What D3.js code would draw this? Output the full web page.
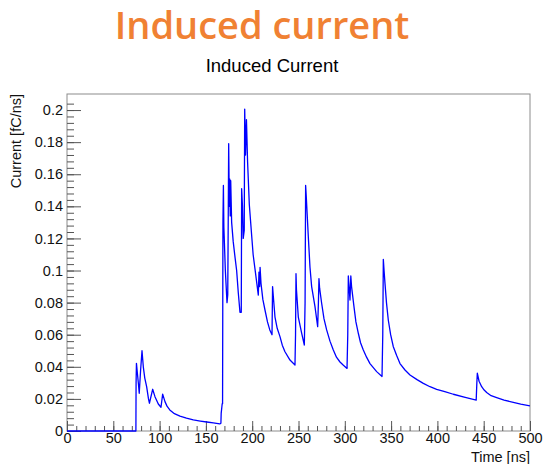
<!DOCTYPE html>
<html>
<head>
<meta charset="utf-8">
<script src="https://cdn.jsdelivr.net/npm/d3@7"></script>
<style>
  html, body { margin: 0; padding: 0; background: #fff; }
  svg { display: block; }
  .tick text { font-family: 'Liberation Sans', Arial, sans-serif; }
</style>
</head>
<body>
<div id="chart"></div>
<script>
const timeNs = [
  0, 74.4, 74.6, 75.0, 76.0, 77.2, 78.0, 79.5, 81.0, 82.4, 84.0, 86.0, 88.0, 89.0,
  92.5, 95.0, 98.6, 101.5, 103.3, 105.8, 108, 111, 116, 122, 129, 136.4, 144, 151, 158,
  165, 166.2, 166.5, 167.6, 168.0, 168.4, 168.9, 169.4, 171, 172.8, 173.6, 174.2,
  174.6, 175.3, 175.8, 176.3, 176.8, 177.8, 179.5, 181.5, 183.2, 185, 186.8, 188.2,
  188.6, 189.5, 190.3, 191.4, 191.9, 192.8, 193.8, 195, 196.9, 199.4, 201, 203, 206.6,
  207.3, 208, 208.5, 209.5, 211.5, 213.8, 216.5, 219, 221.4, 222, 222.8, 224.6, 227,
  230, 232.5, 235.4, 240.8, 246.2, 246.8, 247.3, 247.8, 249.8, 253.4, 256.3, 257.1, 257.7,
  258.3, 260.6, 262.4, 264.2, 267.8, 270.7, 271.5, 272.1, 272.8, 275, 277.5, 280.4,
  284, 287.6, 291, 294.8, 298.5, 302.4, 303.2, 303.8, 305.6, 306.5, 307.3, 309.9,
  312, 314.6, 317, 320, 323.5, 327.2, 334.4, 340.2, 341, 341.6, 342.4, 343.4, 345, 347, 349.5,
  352.4, 356, 359.6, 365, 370.4, 378, 384.8, 392, 399.2, 408, 417.2, 430, 441.9,
  442.6, 443.1, 445, 447.8, 450.5, 453.2, 458, 464, 472, 482, 490, 500
];
const currentFcNs = [
  0, 0, 0.030, 0.0422, 0.036, 0.029, 0.0235, 0.038, 0.050, 0.040, 0.033, 0.0276, 0.020, 0.0173,
  0.026, 0.0214, 0.0168, 0.0148, 0.023, 0.0183, 0.0155, 0.0131, 0.0108, 0.0093, 0.0080, 0.0069, 0.0062, 0.0056, 0.0050,
  0.0044, 0.0048, 0.011, 0.017, 0.017, 0.130, 0.153, 0.127, 0.100, 0.080, 0.085, 0.140,
  0.179, 0.140, 0.157, 0.134, 0.156, 0.130, 0.118, 0.108, 0.100, 0.086, 0.074, 0.074,
  0.151, 0.140, 0.120, 0.125, 0.2006, 0.172, 0.194, 0.168, 0.141, 0.122, 0.110, 0.101, 0.0847,
  0.099, 0.090, 0.102, 0.092, 0.082, 0.0754, 0.068, 0.063, 0.060, 0.090, 0.084, 0.071, 0.064,
  0.0588, 0.0535, 0.0494, 0.0442, 0.0411, 0.060, 0.098, 0.088, 0.071, 0.061, 0.0536, 0.080, 0.153,
  0.147, 0.121, 0.102, 0.090, 0.0775, 0.065, 0.080, 0.095, 0.089, 0.0796, 0.070, 0.063,
  0.056, 0.0505, 0.046, 0.043, 0.041, 0.039, 0.060, 0.0966, 0.0816, 0.0966, 0.090, 0.0775,
  0.068, 0.0609, 0.055, 0.0505, 0.046, 0.042, 0.037, 0.034, 0.060, 0.107, 0.100, 0.092, 0.080, 0.069, 0.060,
  0.0525, 0.047, 0.042, 0.038, 0.0349, 0.032, 0.0297, 0.0276, 0.026, 0.0245, 0.0229, 0.021, 0.0193,
  0.030, 0.036, 0.031, 0.0276, 0.0255, 0.024, 0.022, 0.0208, 0.0192, 0.0179, 0.0168, 0.0157
];

const xTicks = [0, 50, 100, 150, 200, 250, 300, 350, 400, 450, 500];
const xMinorTicks = d3.range(0, 501, 10);
const yTicks = [0, 0.02, 0.04, 0.06, 0.08, 0.1, 0.12, 0.14, 0.16, 0.18, 0.2];
const yMinorTicks = d3.range(0, 52).map(i => +(i * 0.004).toFixed(3));
const yTickLabels = ['0', '0.02', '0.04', '0.06', '0.08', '0.1', '0.12', '0.14', '0.16', '0.18', '0.2'];

const W = 544, H = 464;
const frame = { left: 67, right: 530, top: 94, bottom: 431 };
const font = "'Liberation Sans', Arial, sans-serif";

const svg = d3.select('#chart').append('svg')
  .attr('width', W)
  .attr('height', H);

const x = d3.scaleLinear().domain([0, 500]).range([frame.left, frame.right]);
const y = d3.scaleLinear().domain([0, 0.21]).range([frame.bottom, frame.top]);

// slide heading
svg.append('text')
  .attr('x', 262)
  .attr('y', 39)
  .attr('text-anchor', 'middle')
  .style('font-family', "'Open Sans', sans-serif")
  .style('font-weight', '600')
  .style('font-size', '38px')
  .style('fill', '#f08133')
  .text('Induced current');

// histogram title
svg.append('text')
  .attr('x', 272)
  .attr('y', 71.5)
  .attr('text-anchor', 'middle')
  .style('font-family', font)
  .style('font-size', '18.5px')
  .style('fill', '#000')
  .text('Induced Current');

const data = timeNs.map((t, i) => ({ t, v: currentFcNs[i] }));
svg.append('clipPath').attr('id', 'frame-clip')
  .append('rect')
  .attr('x', frame.left).attr('y', frame.top - 1)
  .attr('width', frame.right - frame.left).attr('height', frame.bottom - frame.top + 2);

const line = d3.line().x(d => x(d.t)).y(d => y(d.v));

// frame
svg.append('rect')
  .attr('x', frame.left)
  .attr('y', frame.top)
  .attr('width', frame.right - frame.left)
  .attr('height', frame.bottom - frame.top)
  .attr('fill', 'none')
  .attr('stroke', '#8c8c8c')
  .attr('stroke-width', 1);

// x axis, ticks point inwards
const xAxisG = svg.append('g').attr('transform', `translate(0,${frame.bottom})`);
xAxisG.append('g')
  .call(d3.axisBottom(x).tickValues(xMinorTicks).tickSize(-5).tickFormat(''))
  .call(g => g.select('.domain').remove());
xAxisG.append('g')
  .call(d3.axisBottom(x).tickValues(xTicks).tickSize(-10).tickPadding(2).tickFormat(d3.format('d')))
  .call(g => g.select('.domain').remove());

// y axis
const yAxisG = svg.append('g').attr('transform', `translate(${frame.left},0)`);
yAxisG.append('g')
  .call(d3.axisLeft(y).tickValues(yMinorTicks).tickSize(-7).tickFormat(''))
  .call(g => g.select('.domain').remove());
yAxisG.append('g')
  .call(d3.axisLeft(y).tickValues(yTicks).tickSize(-14).tickPadding(4)
    .tickFormat((d, i) => yTickLabels[i]))
  .call(g => g.select('.domain').remove());

svg.selectAll('.tick line')
  .attr('stroke', '#555')
  .attr('stroke-width', 1);
svg.selectAll('.tick text')
  .style('font-family', font)
  .style('font-size', '14.5px')
  .style('fill', '#111');

// trace
svg.append('path')
  .datum(data)
  .attr('clip-path', 'url(#frame-clip)')
  .attr('fill', 'none')
  .attr('stroke', '#0000ff')
  .attr('stroke-width', 1.3)
  .attr('stroke-linejoin', 'round')
  .attr('d', line);

// axis titles
svg.append('text')
  .attr('x', frame.right)
  .attr('y', 462)
  .attr('text-anchor', 'end')
  .style('font-family', font)
  .style('font-size', '14.5px')
  .style('fill', '#111')
  .text('Time [ns]');

svg.append('text')
  .attr('transform', `translate(21,${frame.top}) rotate(-90)`)
  .attr('text-anchor', 'end')
  .style('font-family', font)
  .style('font-size', '14.5px')
  .style('fill', '#111')
  .text('Current [fC/ns]');
</script>
</body>
</html>
